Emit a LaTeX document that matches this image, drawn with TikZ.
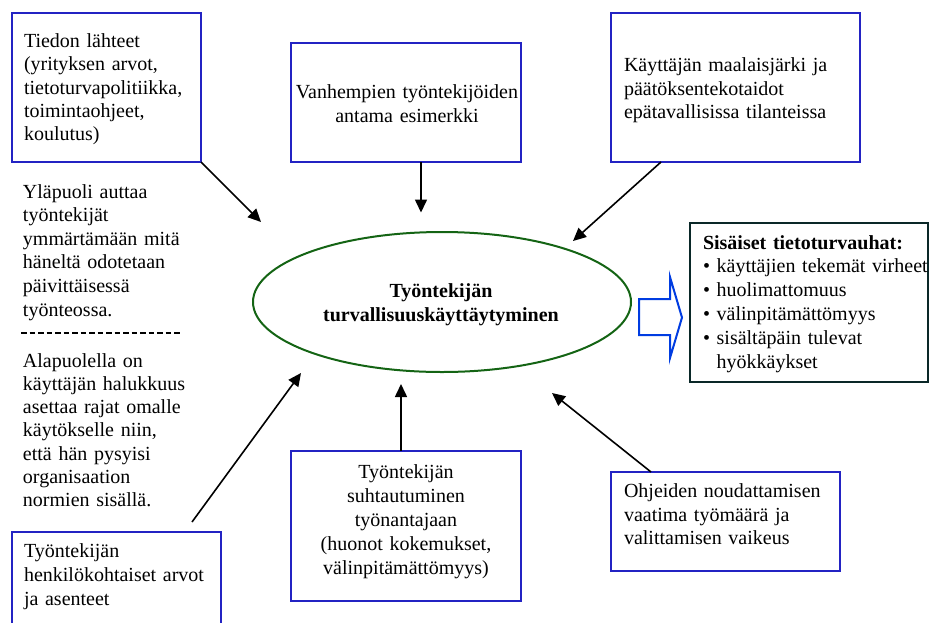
\documentclass[tikz,border=0pt]{standalone}
\usepackage{fontspec}
\setmainfont{Liberation Serif}
\usetikzlibrary{arrows.meta,shapes.geometric}
\definecolor{boxblue}{RGB}{35,35,195}
\definecolor{ellgreen}{RGB}{20,100,20}
\definecolor{darkbox}{RGB}{10,40,40}
\definecolor{arrowblue}{RGB}{0,60,225}
\newcommand\myfs[1]{\fontsize{20}{#1}\selectfont}
\begin{document}
\begin{tikzpicture}[x=1pt,y=-1pt,
  every node/.style={inner sep=0pt, outer sep=0pt},
  bluebox/.style={draw=boxblue, line width=1.5pt, anchor=north west},
  ltxt/.style={anchor=base west, align=left, text width=#1},
  ctxt/.style={anchor=base, align=center, text width=#1},
  conn/.style={line width=1.6pt, -{Triangle[length=13pt,width=12pt]}}]
\useasboundingbox (0,0) rectangle (929,622);

% boxes
\node[bluebox, minimum width=189pt, minimum height=149pt] (b1) at (12,13) {};
\node[bluebox, minimum width=230pt, minimum height=119pt] (b2) at (291,43) {};
\node[bluebox, minimum width=249pt, minimum height=149pt] (b3) at (611,13) {};
\node[bluebox, minimum width=209pt, minimum height=100pt] (b4) at (12,532) {};
\node[bluebox, minimum width=230pt, minimum height=150pt] (b5) at (291,451) {};
\node[bluebox, minimum width=229pt, minimum height=99pt] (b6) at (611,472) {};
\node[draw=darkbox, line width=2.5pt, anchor=north west, minimum width=238pt, minimum height=159pt] (rb) at (690,223) {};

% ellipse
\node[draw=ellgreen, line width=2pt, ellipse, minimum width=378pt, minimum height=140pt] (ell) at (442,302) {};
\node[ctxt=300pt, font=\myfs{24}\bfseries] (ellt) at (441,297) {Työntekijän\\turvallisuuskäyttäytyminen};

% box texts
\node[ltxt=180pt, font=\myfs{23.3}] (t1) at (24,47.5) {Tiedon lähteet\\(yrityksen arvot,\\tietoturvapolitiikka,\\toimintaohjeet,\\koulutus)};
\node[ctxt=228pt, font=\myfs{24}] (t2) at (407,98) {Vanhempien työntekijöiden\\antama esimerkki};
\node[ltxt=235pt, font=\myfs{23.5}] (t3) at (624,71.5) {Käyttäjän maalaisjärki ja\\päätöksentekotaidot\\epätavallisissa tilanteissa};
\node[ltxt=195pt, font=\myfs{24}] (t4) at (24,557) {Työntekijän\\henkilökohtaiset arvot\\ja asenteet};
\node[ctxt=228pt, font=\myfs{24}] (t5) at (406,478) {Työntekijän\\suhtautuminen\\työnantajaan\\(huonot kokemukset,\\välinpitämättömyys)};
\node[ltxt=215pt, font=\myfs{23.5}] (t6) at (624,497.5) {Ohjeiden noudattamisen\\vaatima työmäärä ja\\valittamisen vaikeus};
\node[ltxt=280pt, font=\myfs{23.8}] (t7) at (703,249) {\textbf{Sisäiset tietoturvauhat:}\\• käyttäjien tekemät virheet\\• huolimattomuus\\• välinpitämättömyys\\• sisältäpäin tulevat\\\phantom{• }hyökkäykset};

% free texts
\node[ltxt=200pt, font=\myfs{23.6}] (up) at (23,198) {Yläpuoli auttaa\\työntekijät\\ymmärtämään mitä\\häneltä odotetaan\\päivittäisessä\\työnteossa.};
\node[ltxt=200pt, font=\myfs{23.3}] (down) at (23,367) {Alapuolella on\\käyttäjän halukkuus\\asettaa rajat omalle\\käytökselle niin,\\että hän pysyisi\\organisaation\\normien sisällä.};
\coordinate (dl1) at (21,333);
\coordinate (dl2) at (182,333);
\draw[line width=1.3pt, dash pattern=on 5.5pt off 3pt] (dl1) -- (dl2);

% connector ends
\coordinate (s2) at (421,162);
\coordinate (s3) at (661,162);
\coordinate (s4) at (192,522);
\coordinate (s5) at (401,451);
\coordinate (s6) at (651,472);
\coordinate (e1) at (261,222);
\coordinate (e2) at (421,212.5);
\coordinate (e3) at (573,241);
\coordinate (e4) at (301,373);
\coordinate (e5) at (401,384);
\coordinate (e6) at (552,393);

\draw[conn] (b1.south east) -- (e1);
\draw[conn] (s2) -- (e2);
\draw[conn] (s3) -- (e3);
\draw[conn] (s4) -- (e4);
\draw[conn] (s5) -- (e5);
\draw[conn] (s6) -- (e6);

% hollow block arrow
\draw[arrowblue, line width=2pt, line join=miter]
  (639,299) -- (670,299) -- (670,277) -- (682,317.5) -- (670,358) -- (670,335) -- (639,335) -- cycle;
\end{tikzpicture}
\end{document}
